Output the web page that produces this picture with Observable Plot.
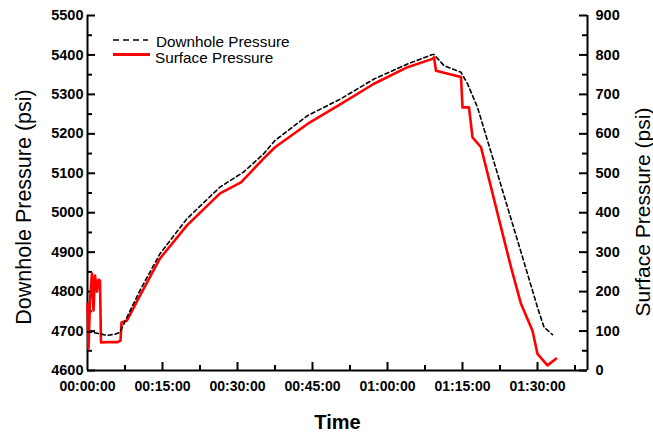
<!DOCTYPE html>
<html>
<head>
<meta charset="utf-8">
<script src="https://cdn.jsdelivr.net/npm/d3@7"></script>
<script src="https://cdn.jsdelivr.net/npm/@observablehq/plot@0.6"></script>
<style>
  html, body { margin: 0; padding: 0; background: #fff; }
  #wrap { position: relative; width: 653px; height: 434px; font-family: "Liberation Sans", Arial, sans-serif; }
  #legend { position: absolute; left: 0; top: 0; pointer-events: none; }
</style>
</head>
<body>
<div id="wrap"></div>
<script>
// Downhole pressure (psi, left axis) vs time (minutes)
const downholeTime = [0, 0.9, 2.5, 3.9, 5.5, 6.5, 7.9, 10.5, 14.5, 19.9, 26.5, 31.2, 35.2, 37.5, 44.0, 50.7, 57.3, 64.0, 69.0, 69.3, 71.3, 74.7, 76.0, 78.0, 80.0, 82.0, 84.0, 86.0, 88.0, 90.0, 91.3, 93.0];
const downholePressure = [4698, 4697, 4693, 4689, 4692, 4697, 4735, 4803, 4896, 4985, 5065, 5103, 5149, 5183, 5246, 5289, 5339, 5377, 5401, 5401, 5373, 5356, 5327, 5267, 5183, 5099, 5014, 4930, 4845, 4760, 4710, 4691];

// Surface pressure (psi, right axis) vs time (minutes)
const surfaceTime = [0, 0.2, 0.5, 0.9, 1.2, 1.5, 1.9, 2.2, 2.5, 2.7, 4.0, 6.0, 6.6, 6.8, 7.9, 10.5, 14.5, 19.9, 26.5, 30.7, 35.2, 37.5, 44.0, 50.7, 57.3, 64.0, 69.0, 69.3, 69.7, 74.7, 75.0, 76.3, 77.0, 78.7, 80.7, 82.7, 84.7, 86.7, 89.0, 90.0, 92.0, 93.7];
const surfacePressure = [170, 56, 177, 246, 152, 241, 200, 230, 228, 71, 72, 72, 76, 122, 127, 190, 284, 368, 449, 477, 537, 566, 625, 676, 727, 769, 790, 794, 760, 744, 667, 667, 591, 566, 465, 363, 262, 169, 101, 42, 13, 30];

const timeTicks = [15, 30, 45, 60, 75, 90];
const timeLabels = [0, 15, 30, 45, 60, 75, 90];
const timeMinorTicks = [7.5, 22.5, 37.5, 52.5, 67.5, 82.5, 97.5];
const leftTicks = [4600, 4700, 4800, 4900, 5000, 5100, 5200, 5300, 5400, 5500];
const leftMinorTicks = [4650, 4750, 4850, 4950, 5050, 5150, 5250, 5350, 5450];
const rightTicks = [0, 100, 200, 300, 400, 500, 600, 700, 800, 900];
const rightMinorTicks = [50, 150, 250, 350, 450, 550, 650, 750, 850];

const leftTitle = "Downhole Pressure (psi)";
const rightTitle = "Surface Pressure (psi)";
const xTitle = "Time";
const legendLabels = ["Downhole Pressure", "Surface Pressure"];

const offset = 4600; // right axis 0 aligns with left axis 4600
const xMin = 0, xMax = 100, yMin = 4600, yMax = 5500;

const downhole = downholeTime.map((t, i) => ({t, p: downholePressure[i]}));
const surface = surfaceTime.map((t, i) => ({t, p: surfacePressure[i]}));

const pad = n => String(n).padStart(2, "0");
const fmtTime = t => { const s = Math.round(t * 60); return `${pad(Math.floor(s / 3600))}:${pad(Math.floor(s / 60) % 60)}:${pad(s % 60)}`; };

const font = "Liberation Sans, Arial, sans-serif";
const W = 653, H = 434, mL = 87, mR = 66, mT = 15, mB = 64;
// tick lengths in pixels converted to data units
const pxX = (xMax - xMin) / (W - mL - mR);
const pxY = (yMax - yMin) / (H - mT - mB);
const tk = {stroke: "#000", strokeWidth: 2};

const chart = Plot.plot({
  width: W,
  height: H,
  marginLeft: mL,
  marginRight: mR,
  marginTop: mT,
  marginBottom: mB,
  style: {fontFamily: font, background: "#fff", color: "#000", overflow: "visible"},
  x: {domain: [xMin, xMax]},
  y: {domain: [yMin, yMax]},
  marks: [
    // axis tick labels
    Plot.axisX({ticks: timeLabels, tickFormat: fmtTime, tickSize: 0, tickPadding: 11, fontSize: 14, fontWeight: "bold", label: null}),
    Plot.axisY({anchor: "left", ticks: leftTicks, tickFormat: d => String(d), tickSize: 0, tickPadding: 4, fontSize: 14.5, fontWeight: "bold", label: null}),
    Plot.axisY({anchor: "right", ticks: rightTicks.map(d => d + offset), tickFormat: d => String(d - offset), tickSize: 0, tickPadding: 8, fontSize: 14.5, fontWeight: "bold", label: null}),
    // inward ticks
    Plot.ruleX(timeTicks, {x: d => d, y1: yMin, y2: yMin + 8 * pxY, ...tk}),
    Plot.ruleX(timeMinorTicks, {x: d => d, y1: yMin, y2: yMin + 5 * pxY, ...tk}),
    Plot.ruleY(leftTicks, {y: d => d, x1: xMin, x2: xMin + 8 * pxX, ...tk}),
    Plot.ruleY(leftMinorTicks, {y: d => d, x1: xMin, x2: xMin + 5 * pxX, ...tk}),
    Plot.ruleY(rightTicks, {y: d => d + offset, x1: xMax - 8 * pxX, x2: xMax, ...tk}),
    Plot.ruleY(rightMinorTicks, {y: d => d + offset, x1: xMax - 5 * pxX, x2: xMax, ...tk}),
    // axis lines
    Plot.ruleX([xMin, xMax], {y1: yMin, y2: yMax, stroke: "#000", strokeWidth: 2}),
    Plot.ruleY([yMin], {x1: xMin, x2: xMax, stroke: "#000", strokeWidth: 2}),
    // data
    Plot.line(surface, {x: "t", y: d => d.p + offset, stroke: "#ff0000", strokeWidth: 2.6}),
    Plot.line(downhole, {x: "t", y: "p", stroke: "#000", strokeWidth: 1.6, strokeDasharray: "4,3"}),
    // titles
    Plot.text([leftTitle], {frameAnchor: "left", dx: -63, dy: 14, rotate: -90, fontSize: 21.5, lineAnchor: "middle", textAnchor: "middle", fill: "#000"}),
    Plot.text([rightTitle], {frameAnchor: "right", dx: 56, dy: 19, rotate: -90, fontSize: 21, lineAnchor: "middle", textAnchor: "middle", fill: "#000"}),
    Plot.text([xTitle], {frameAnchor: "bottom", dy: 52, fontSize: 20, fontWeight: "bold", lineAnchor: "middle", textAnchor: "middle", fill: "#000"})
  ]
});

const wrap = document.getElementById("wrap");
wrap.appendChild(chart);

// legend overlay
const ns = "http://www.w3.org/2000/svg";
const lg = document.createElementNS(ns, "svg");
lg.setAttribute("id", "legend");
lg.setAttribute("width", W);
lg.setAttribute("height", H);
lg.innerHTML = `
  <line x1="113" y1="40" x2="148" y2="40" stroke="#000" stroke-width="1.6" stroke-dasharray="6,4"/>
  <line x1="113" y1="54.5" x2="150" y2="54.5" stroke="#ff0000" stroke-width="3.2"/>
  <text x="156" y="46.5" font-family="${font}" font-size="15.3" fill="#000">${legendLabels[0]}</text>
  <text x="155" y="63" font-family="${font}" font-size="15.3" fill="#000">${legendLabels[1]}</text>
`;
wrap.appendChild(lg);
</script>
</body>
</html>
